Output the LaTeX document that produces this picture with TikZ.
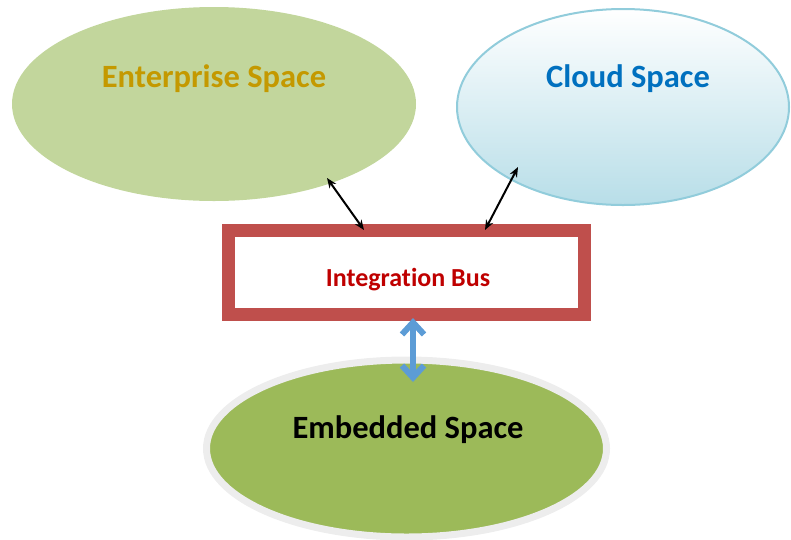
\documentclass[tikz,border=0pt]{standalone}
\usepackage{fontspec}
\setmainfont{Carlito}[Ligatures=CommonOff]
\usetikzlibrary{shapes.geometric,arrows.meta}
\definecolor{entfill}{rgb}{0.76,0.84,0.61}
\definecolor{enttext}{rgb}{0.77,0.6,0}
\definecolor{cloudline}{rgb}{0.57,0.8,0.86}
\definecolor{cloudfill}{rgb}{0.72,0.87,0.91}
\definecolor{cloudtext}{rgb}{0,0.44,0.75}
\definecolor{busred}{rgb}{0.75,0.31,0.3}
\definecolor{bustext}{rgb}{0.75,0,0}
\definecolor{embfill}{rgb}{0.61,0.73,0.35}
\definecolor{embring}{rgb}{0.93,0.93,0.93}
\definecolor{linkblue}{rgb}{0.36,0.61,0.84}
\tikzset{
  space/.style={ellipse,inner sep=0pt},
  title/.style={font=\bfseries\fontsize{#1}{#1}\selectfont},
  link/.style={{Stealth[length=10pt,width=8pt]}-{Stealth[length=10pt,width=8pt]},line width=2pt,black}
}
\begin{document}
\begin{tikzpicture}[x=1pt,y=-1pt,line cap=round,line join=round]
\useasboundingbox (0,0) rectangle (791,539);
% the three spaces
\node[space,fill=entfill,minimum width=404pt,minimum height=194pt] (ent) at (214,104) {};
\node[space,draw=cloudline,line width=2pt,top color=white,bottom color=cloudfill,minimum width=332pt,minimum height=196pt] (cloud) at (623,107) {};
\node[space,draw=embring,line width=7pt,fill=embfill,minimum width=400pt,minimum height=177pt] (emb) at (406.5,448.5) {};
% the bus
\node[draw=busred,line width=13pt,line join=miter,fill=white,minimum width=356pt,minimum height=84pt,inner sep=0pt] (bus) at (406.5,272.5) {};
% texts
\node[title=32.5,text=enttext] (enttxt) at (214,79) {Enterprise Space};
\node[title=32.5,text=cloudtext] (cloudtxt) at (628,79) {Cloud Space};
\node[title=26,text=bustext] (bustxt) at (408,280) {Integration Bus};
\node[title=32.5,text=black] (embtxt) at (408,430) {Embedded Space};
% links
\coordinate (entend) at (327,178);
\coordinate (busleft) at (364,230);
\coordinate (cloudend) at (518,167);
\coordinate (busright) at (485,230);
\coordinate (bustop) at (413,318);
\coordinate (embtop) at (413,382);
\draw[link] (entend) -- (busleft);
\draw[link] (cloudend) -- (busright);
\draw[{Straight Barb[length=12pt,width=22pt,line width=6pt]}-{Straight Barb[length=12pt,width=22pt,line width=6pt]},line width=6pt,linkblue] (bustop) -- (embtop);
\end{tikzpicture}
\end{document}
